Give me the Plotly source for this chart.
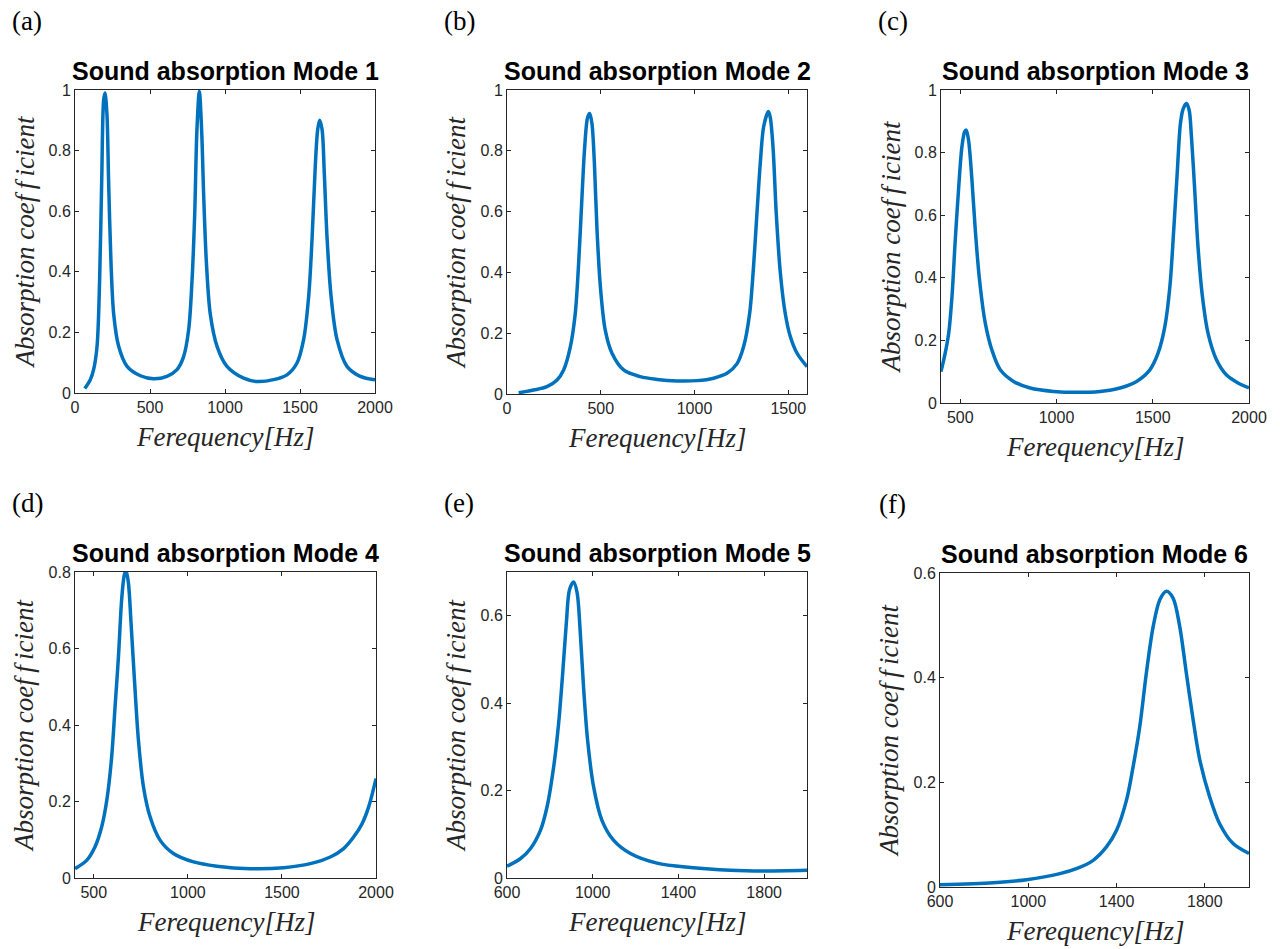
import plotly.graph_objects as go

W, H = 1280, 949

# ---------------- data ----------------
freq_a = [65, 102, 124, 147, 164, 178, 191, 200, 213, 224, 240, 258, 291, 347, 436, 524, 613, 680, 724, 758,
          780, 798, 813, 829, 844, 858, 876, 902, 947, 1013, 1124, 1213, 1324, 1413, 1480, 1524, 1558, 1580, 1602, 1618,
          1631, 1647, 1662, 1680, 1707, 1747, 1813, 1902, 2000]
abs_a = [0.015, 0.044, 0.077, 0.154, 0.37, 0.70, 0.967, 0.99, 0.92, 0.70, 0.43, 0.26, 0.154, 0.088, 0.057, 0.047, 0.055, 0.077, 0.12, 0.21,
         0.37, 0.59, 0.87, 0.995, 0.87, 0.65, 0.43, 0.26, 0.154, 0.088, 0.049, 0.038, 0.044, 0.06, 0.099, 0.176, 0.32, 0.505, 0.75, 0.87,
         0.90, 0.87, 0.725, 0.516, 0.32, 0.176, 0.088, 0.055, 0.044]

freq_b = [62, 142, 213, 267, 302, 338, 364, 382, 400, 414, 430, 441, 453, 466, 480, 498, 524, 560, 622, 711,
          800, 907, 1013, 1102, 1173, 1227, 1262, 1294, 1316, 1333, 1351, 1369, 1394, 1404, 1419, 1436, 1458, 1484, 1511, 1547,
          1600]
abs_b = [0.004, 0.013, 0.024, 0.046, 0.079, 0.156, 0.265, 0.43, 0.65, 0.81, 0.91, 0.923, 0.89, 0.76, 0.54, 0.353, 0.21, 0.134, 0.079, 0.057,
         0.048, 0.043, 0.044, 0.052, 0.068, 0.10, 0.156, 0.265, 0.43, 0.594, 0.76, 0.88, 0.929, 0.91, 0.81, 0.594, 0.397, 0.265, 0.189, 0.134,
         0.09]

freq_c = [400, 422, 440, 457, 474, 492, 509, 523, 531, 543, 561, 578, 600, 630, 664, 708, 777, 863, 984, 1105,
          1226, 1330, 1416, 1485, 1528, 1563, 1589, 1609, 1627, 1644, 1658, 1675, 1689, 1701, 1718, 1735, 1758, 1787, 1831, 1882,
          1943, 2000]
abs_c = [0.10, 0.16, 0.223, 0.34, 0.52, 0.69, 0.82, 0.867, 0.872, 0.84, 0.71, 0.553, 0.394, 0.255, 0.17, 0.106, 0.069, 0.048, 0.037, 0.034,
         0.037, 0.048, 0.069, 0.106, 0.16, 0.245, 0.372, 0.553, 0.734, 0.894, 0.94, 0.957, 0.936, 0.851, 0.68, 0.50, 0.34, 0.223, 0.138, 0.09,
         0.064, 0.048]

freq_d = [400, 462, 506, 542, 569, 595, 613, 631, 648, 661, 671, 684, 698, 716, 737, 764, 799, 852, 923, 1030,
          1154, 1331, 1509, 1651, 1757, 1828, 1881, 1926, 1961, 2000]
abs_d = [0.0245, 0.046, 0.081, 0.134, 0.203, 0.317, 0.448, 0.579, 0.728, 0.789, 0.805, 0.771, 0.666, 0.518, 0.361, 0.238, 0.16, 0.099, 0.064, 0.042,
         0.031, 0.0245, 0.027, 0.0376, 0.055, 0.077, 0.107, 0.142, 0.186, 0.26]

freq_e = [600, 662, 709, 756, 787, 818, 841, 860, 877, 892, 911, 927, 942, 958, 976, 1004, 1043, 1098, 1176, 1300,
          1456, 1642, 1798, 2000]
abs_e = [0.027, 0.044, 0.067, 0.109, 0.163, 0.255, 0.354, 0.469, 0.584, 0.66, 0.677, 0.653, 0.561, 0.431, 0.316, 0.209, 0.132, 0.086, 0.056, 0.034,
         0.024, 0.0176, 0.016, 0.0176]

freq_f = [600, 841, 992, 1143, 1218, 1294, 1354, 1400, 1445, 1475, 1505, 1535, 1566, 1596, 1626, 1656, 1686, 1716, 1747, 1777,
          1822, 1867, 1928, 2000]
abs_f = [0.0045, 0.0083, 0.014, 0.0255, 0.035, 0.051, 0.0766, 0.1085, 0.166, 0.23, 0.306, 0.409, 0.498, 0.549, 0.565, 0.552, 0.498, 0.409, 0.319, 0.243,
         0.172, 0.121, 0.083, 0.064]

panel_letters = ["(a)", "(b)", "(c)", "(d)", "(e)", "(f)"]
titles = ["Sound absorption Mode 1", "Sound absorption Mode 2", "Sound absorption Mode 3",
          "Sound absorption Mode 4", "Sound absorption Mode 5", "Sound absorption Mode 6"]
x_ranges = [[0, 2000], [0, 1600], [400, 2000], [400, 2000], [600, 2000], [600, 2000]]
x_ticks = [[0, 500, 1000, 1500, 2000], [0, 500, 1000, 1500], [500, 1000, 1500, 2000],
           [500, 1000, 1500, 2000], [600, 1000, 1400, 1800], [600, 1000, 1400, 1800]]
y_ranges = [[0, 1], [0, 1], [0, 1], [0, 0.8], [0, 0.7], [0, 0.6]]
y_ticks = [[0, 0.2, 0.4, 0.6, 0.8, 1], [0, 0.2, 0.4, 0.6, 0.8, 1], [0, 0.2, 0.4, 0.6, 0.8, 1],
           [0, 0.2, 0.4, 0.6, 0.8], [0, 0.2, 0.4, 0.6], [0, 0.2, 0.4, 0.6]]
x_label = "<i>Ferequency[Hz]</i>"
y_label = "<i>Absorption coef\u2009f\u2009icient</i>"

series = [(freq_a, abs_a), (freq_b, abs_b), (freq_c, abs_c), (freq_d, abs_d), (freq_e, abs_e), (freq_f, abs_f)]

# axes boxes in pixels: left, right, top, bottom
boxes = [(75, 375, 90, 393), (507, 807, 90, 394), (941, 1249, 90, 403),
         (75, 376, 572, 878), (507, 807, 572, 878), (940, 1249, 573, 887)]

LINE_COLOR = "#0072BD"
AX_COLOR = "#262626"


def px(x):
    return x / W


def py(y):
    return 1 - y / H


def fmt(v):
    if v == 0:
        return "0"
    if v == int(v):
        return str(int(v))
    return ("%g" % v)


fig = go.Figure()
annotations = []
layout = {}
for i, ((xs, ys), (l, r, t, b)) in enumerate(zip(series, boxes)):
    n = "" if i == 0 else str(i + 1)
    fig.add_trace(go.Scatter(x=xs, y=ys, mode="lines",
                             line=dict(color=LINE_COLOR, width=3.5, shape="spline", smoothing=0.9),
                             xaxis="x" + n, yaxis="y" + n, showlegend=False, hoverinfo="x+y"))
    common = dict(showline=True, linecolor=AX_COLOR, linewidth=1, mirror="ticks", ticks="inside",
                  ticklen=4, tickcolor=AX_COLOR, showgrid=False, zeroline=False, automargin=False,
                  tickfont=dict(family="Arial, Liberation Sans, sans-serif", size=16, color=AX_COLOR))
    layout["xaxis" + n] = dict(common, domain=[px(l), px(r)], range=x_ranges[i],
                               tickvals=x_ticks[i], ticktext=[fmt(v) for v in x_ticks[i]],
                               anchor="y" + n)
    layout["yaxis" + n] = dict(common, domain=[py(b), py(t)], range=y_ranges[i],
                               tickvals=y_ticks[i], ticktext=[fmt(v) for v in y_ticks[i]],
                               anchor="x" + n)
    cx = (l + r) / 2
    cy = (t + b) / 2
    # subplot title
    annotations.append(dict(text="<b>" + titles[i] + "</b>", x=px(cx), y=py(t - 19), xref="paper", yref="paper",
                            showarrow=False, xanchor="center", yanchor="middle",
                            font=dict(family="Arial, Liberation Sans, sans-serif", size=25, color="black")))
    # panel letter
    annotations.append(dict(text=panel_letters[i], x=px(l - 48), y=py(t - 69), xref="paper", yref="paper",
                            showarrow=False, xanchor="center", yanchor="middle",
                            font=dict(family="Liberation Serif, Times New Roman, serif", size=27, color="black")))
    # x label
    annotations.append(dict(text=x_label, x=px(cx), y=py(b + 44), xref="paper", yref="paper",
                            showarrow=False, xanchor="center", yanchor="middle",
                            font=dict(family="Liberation Serif, Times New Roman, serif", size=27, color=AX_COLOR)))
    # y label
    annotations.append(dict(text=y_label, x=px(l - 51), y=py(cy), xref="paper", yref="paper",
                            showarrow=False, xanchor="center", yanchor="middle", textangle=-90,
                            font=dict(family="Liberation Serif, Times New Roman, serif", size=27, color=AX_COLOR)))

fig.update_layout(**layout)
fig.update_layout(width=W, height=H, margin=dict(l=0, r=0, t=0, b=0, pad=0, autoexpand=False),
                  paper_bgcolor="white", plot_bgcolor="white", annotations=annotations,
                  showlegend=False)

fig.write_html("out.html", config={"displayModeBar": False},
               post_script="document.body.style.margin='0';document.body.style.overflow='hidden';")
